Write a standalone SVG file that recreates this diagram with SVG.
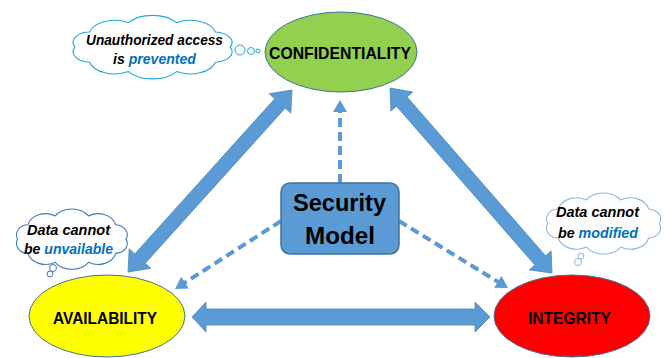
<svg xmlns="http://www.w3.org/2000/svg" width="665" height="358" viewBox="0 0 665 358">
<style>
.ell{stroke:#41719c;stroke-width:1}
.lbl{font-family:"Liberation Sans",Arial,sans-serif;font-weight:bold;fill:#000;text-anchor:middle}
.big{fill:#5b9bd5;stroke:#4a86bf;stroke-width:0.8}
.dash{fill:none;stroke:#5b9bd5;stroke-width:4;stroke-dasharray:9 5}
.cl{font-family:"Liberation Sans",Arial,sans-serif;font-weight:bold;font-style:italic;fill:#000;text-anchor:middle}
.hl{fill:#0070c0}
.cloud{fill:#fff;stroke-width:1.1}
</style>
<defs>
<path id="cloudShape" vector-effect="non-scaling-stroke" d="M92,30 A10,9 0 0 1 84,42.9 A14,13 0 0 1 63,50.9 A16,15 0 0 1 37,50.9 A14,13 0 0 1 16,42.9 A9,9 0 0 1 8,30 A9,9 0 0 1 16,17.1 A14,13 0 0 1 37,9.1 A16,15 0 0 1 63,9.1 A14,13 0 0 1 84,17.1 A10,9 0 0 1 92,30 Z"/>
<marker id="ah" markerUnits="userSpaceOnUse" markerWidth="14" markerHeight="14" refX="2" refY="7" orient="auto">
<path d="M0,0 L12,7 L0,14 Z" fill="#5b9bd5"/>
</marker>
</defs>

<g id="connectors">
<polygon class="big" points="292,90 290.8,113.1 285.2,108.1 145.2,263.3 150.8,268.3 128,272 129.2,248.9 134.8,253.9 274.8,98.7 269.2,93.7"/>
<polygon class="big" points="390,88 412.7,92.1 407.1,97 545.5,255.8 551.1,250.9 552,273 529.3,269.9 534.9,265 396.5,106.2 390.9,111.1"/>
<polygon class="big" points="192,317 206,302 206,309 475,309 475,302 490,317 475,332 475,325 206,325 206,332"/>
<line class="dash" x1="340" y1="183" x2="340" y2="110" marker-end="url(#ah)"/>
<line class="dash" x1="281" y1="221" x2="183.4" y2="283.6" marker-end="url(#ah)"/>
<line class="dash" x1="399" y1="221" x2="499.5" y2="282.8" marker-end="url(#ah)"/>
</g>

<g id="confidentiality">
<ellipse class="ell" cx="341" cy="52" rx="76" ry="40" fill="#92d050"/>
<text class="lbl" x="340" y="59" font-size="17" textLength="142" lengthAdjust="spacingAndGlyphs">CONFIDENTIALITY</text>
</g>

<g id="availability">
<ellipse class="ell" cx="107" cy="316" rx="78" ry="41" fill="#ffff00"/>
<text class="lbl" x="105" y="323.5" font-size="16" textLength="104" lengthAdjust="spacingAndGlyphs">AVAILABILITY</text>
</g>

<g id="integrity">
<ellipse class="ell" cx="572" cy="316" rx="78" ry="41" fill="#ff0000"/>
<text class="lbl" x="569.5" y="324" font-size="16" textLength="83" lengthAdjust="spacingAndGlyphs">INTEGRITY</text>
</g>

<g id="security-model">
<rect x="281" y="183" width="118" height="71" rx="9" ry="9" fill="#5b9bd5" stroke="#41719c" stroke-width="1.5"/>
<text class="lbl" x="339.5" y="211" font-size="24" textLength="93" lengthAdjust="spacingAndGlyphs">Security</text>
<text class="lbl" x="340" y="244" font-size="24" textLength="70" lengthAdjust="spacingAndGlyphs">Model</text>
</g>

<g id="cloud-confidentiality">
<use href="#cloudShape" class="cloud" stroke="#1fa8e0" transform="translate(60,12) scale(1.85,1.17)"/>
<circle cx="240" cy="50" r="5" fill="#fff" stroke="#1fa8e0" stroke-width="1"/>
<circle cx="251" cy="51" r="3.5" fill="#fff" stroke="#1fa8e0" stroke-width="1"/>
<circle cx="258" cy="51" r="2" fill="#fff" stroke="#1fa8e0" stroke-width="1"/>
<text class="cl" x="154.5" y="45" font-size="15" textLength="137" lengthAdjust="spacingAndGlyphs">Unauthorized access</text>
<text class="cl" x="154.5" y="64" font-size="15" textLength="83" lengthAdjust="spacingAndGlyphs">is <tspan class="hl">prevented</tspan></text>
</g>

<g id="cloud-availability">
<use href="#cloudShape" class="cloud" stroke="#3a7dc0" transform="translate(7.3,205.8) scale(1.29,1.11)"/>
<circle cx="53" cy="268" r="3.5" fill="#fff" stroke="#3a7dc0" stroke-width="1"/>
<circle cx="50" cy="274" r="3" fill="#fff" stroke="#3a7dc0" stroke-width="1"/>
<text class="cl" x="68.5" y="235" font-size="14" textLength="83" lengthAdjust="spacingAndGlyphs">Data cannot</text>
<text class="cl" x="68.5" y="254" font-size="14" textLength="89" lengthAdjust="spacingAndGlyphs">be <tspan class="hl">unvailable</tspan></text>
</g>

<g id="cloud-integrity">
<use href="#cloudShape" class="cloud" stroke="#8fb8e0" transform="translate(537,189.75) scale(1.33,1.125)"/>
<circle cx="581" cy="256" r="3" fill="#fff" stroke="#8fb8e0" stroke-width="1"/>
<circle cx="578" cy="262" r="3.5" fill="#fff" stroke="#8fb8e0" stroke-width="1"/>
<text class="cl" x="597.5" y="217" font-size="14" textLength="83" lengthAdjust="spacingAndGlyphs">Data cannot</text>
<text class="cl" x="598" y="238" font-size="14" textLength="80" lengthAdjust="spacingAndGlyphs">be <tspan class="hl">modified</tspan></text>
</g>
</svg>
